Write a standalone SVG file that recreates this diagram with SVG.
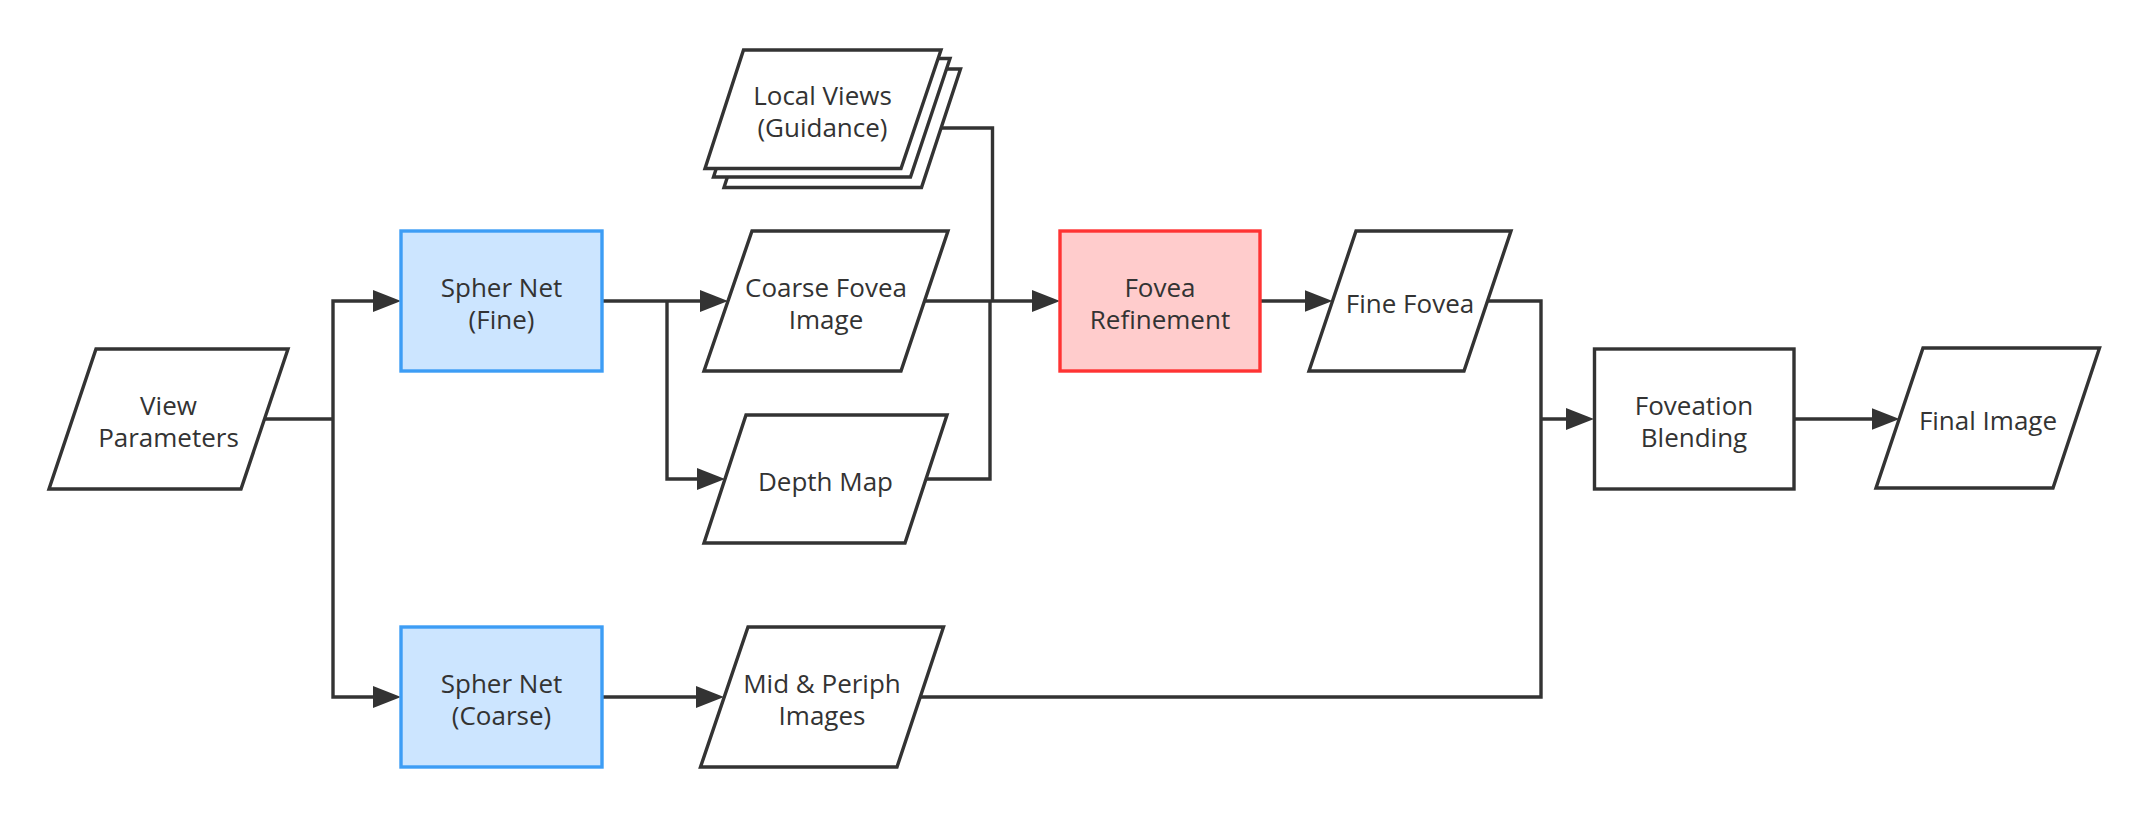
<svg xmlns="http://www.w3.org/2000/svg" width="2150" height="817" viewBox="0 0 2150 817">
<defs>
<style>
.shape{fill:#ffffff;stroke:#333333;stroke-width:3.4;stroke-linejoin:miter}
.blue{fill:#cce5ff;stroke:#3d9df5;stroke-width:3.4}
.red{fill:#ffcccc;stroke:#ff3333;stroke-width:3.4}
.conn{fill:none;stroke:#333333;stroke-width:3.4}
.arr{marker-end:url(#ah)}
text{font-family:"Open Sans","Noto Sans","Liberation Sans",sans-serif;font-size:26px;fill:#333333;text-anchor:middle}
</style>
<marker id="ah" viewBox="0 0 28 22" refX="18" refY="11" markerWidth="28" markerHeight="22" markerUnits="userSpaceOnUse" orient="auto">
<path d="M0,0 L28,11 L0,22 z" fill="#333333"/>
</marker>
</defs>
<rect width="2150" height="817" fill="#ffffff"/>
<g id="connectors">
<path class="conn" d="M264.5,419 H333"/>
<path class="conn arr" d="M333,419 V301 H391"/>
<path class="conn arr" d="M333,419 V697 H391"/>
<path class="conn arr" d="M603,301 H718"/>
<path class="conn arr" d="M667,301 V479 H715"/>
<path class="conn arr" d="M603,697 H714"/>
<path class="conn" d="M940,128 H992.5 V301"/>
<path class="conn" d="M926,479 H990 V301"/>
<path class="conn arr" d="M924.5,301 H1050"/>
<path class="conn arr" d="M1260,301 H1322.5"/>
<path class="conn" d="M1487.5,301 H1541 V419"/>
<path class="conn" d="M920,697 H1541 V419"/>
<path class="conn arr" d="M1541,419 H1584"/>
<path class="conn arr" d="M1794,419 H1889.5"/>
</g>
<g id="view-parameters">
<polygon class="shape" points="96,349 288,349 241,489 49,489"/>
<text x="168.5" y="415">View</text>
<text x="168.5" y="447">Parameters</text>
</g>
<g id="spher-net-fine">
<rect class="blue" x="401" y="231" width="201" height="140"/>
<text x="501.5" y="297">Spher Net</text>
<text x="501.5" y="329">(Fine)</text>
</g>
<g id="spher-net-coarse">
<rect class="blue" x="401" y="627" width="201" height="140"/>
<text x="501.5" y="693">Spher Net</text>
<text x="501.5" y="725">(Coarse)</text>
</g>
<g id="local-views">
<polygon class="shape" points="762.5,69 960.5,69 921.5,187.5 724,187.5"/>
<polygon class="shape" points="752,58.5 950,58.5 910.5,177 713.5,177"/>
<polygon class="shape" points="743.5,50 941,50 901,168.5 705,168.5"/>
<text x="822.5" y="105">Local Views</text>
<text x="822.5" y="137">(Guidance)</text>
</g>
<g id="coarse-fovea-image">
<polygon class="shape" points="752,231 948,231 901,371 704,371"/>
<text x="826" y="297">Coarse Fovea</text>
<text x="826" y="329">Image</text>
</g>
<g id="depth-map">
<polygon class="shape" points="746,415 947,415 905,543 704,543"/>
<text x="825.5" y="491">Depth Map</text>
</g>
<g id="mid-periph-images">
<polygon class="shape" points="748,627 943.5,627 897,767 700.5,767"/>
<text x="822" y="693">Mid &amp; Periph</text>
<text x="822" y="725">Images</text>
</g>
<g id="fovea-refinement">
<rect class="red" x="1060" y="231" width="200" height="140"/>
<text x="1160" y="297">Fovea</text>
<text x="1160" y="329">Refinement</text>
</g>
<g id="fine-fovea">
<polygon class="shape" points="1356,231 1511,231 1464,371 1309,371"/>
<text x="1410" y="313">Fine Fovea</text>
</g>
<g id="foveation-blending">
<rect class="shape" x="1594.5" y="349" width="199.5" height="140"/>
<text x="1694" y="415">Foveation</text>
<text x="1694" y="447">Blending</text>
</g>
<g id="final-image">
<polygon class="shape" points="1923,348 2099.5,348 2053,488 1876,488"/>
<text x="1988" y="430">Final Image</text>
</g>
</svg>
